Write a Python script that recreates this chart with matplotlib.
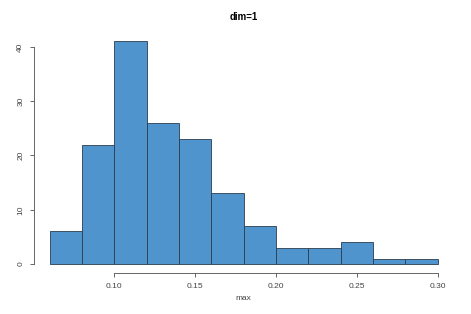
import matplotlib
matplotlib.use("Agg")
import matplotlib.pyplot as plt

# histogram of max, dim=1
bin_edges = [0.06, 0.08, 0.10, 0.12, 0.14, 0.16, 0.18, 0.20, 0.22, 0.24, 0.26, 0.28, 0.30]
counts = [6, 22, 41, 26, 23, 13, 7, 3, 3, 4, 1, 1]
x_ticks = [0.10, 0.15, 0.20, 0.25, 0.30]
x_tick_labels = ["0.10", "0.15", "0.20", "0.25", "0.30"]
y_ticks = [0, 10, 20, 30, 40]

plt.rcParams["font.family"] = ["Liberation Sans", "DejaVu Sans"]

fig = plt.figure(figsize=(4.71, 3.14), dpi=100)
ax = fig.add_axes([0.0722, 0.1306, 0.962 - 0.0722, 0.8965 - 0.1306])

lefts = bin_edges[:-1]
widths = [b - a for a, b in zip(bin_edges[:-1], bin_edges[1:])]
ax.bar(lefts, counts, width=widths, align="edge", color="#4F94CD",
       edgecolor="#2c3d4e", linewidth=0.6)

# R style padding (4%)
xr = bin_edges[-1] - bin_edges[0]
ax.set_xlim(bin_edges[0] - 0.04 * xr, bin_edges[-1] + 0.04 * xr)
yr = max(counts)
ax.set_ylim(-0.04 * yr, yr * 1.04)

for s in ["top", "right"]:
    ax.spines[s].set_visible(False)
ax.spines["left"].set_bounds(y_ticks[0], y_ticks[-1])
ax.spines["bottom"].set_bounds(x_ticks[0], x_ticks[-1])
for s in ["left", "bottom"]:
    ax.spines[s].set_color("#666666")
    ax.spines[s].set_linewidth(0.7)

ax.set_xticks(x_ticks)
ax.set_xticklabels(x_tick_labels)
ax.set_yticks(y_ticks)
ax.set_yticklabels([str(v) for v in y_ticks], rotation=90, va="center")
ax.tick_params(colors="#666666", labelcolor="#444444", labelsize=6,
               length=3, width=0.7, pad=4)

ax.set_xlabel("max", fontsize=6, color="#444444", labelpad=4)
fig.text(0.517, 0.945, "dim=1", ha="center", va="center", fontsize=7,
         fontweight="bold")

fig.savefig("out.png", dpi=100)
